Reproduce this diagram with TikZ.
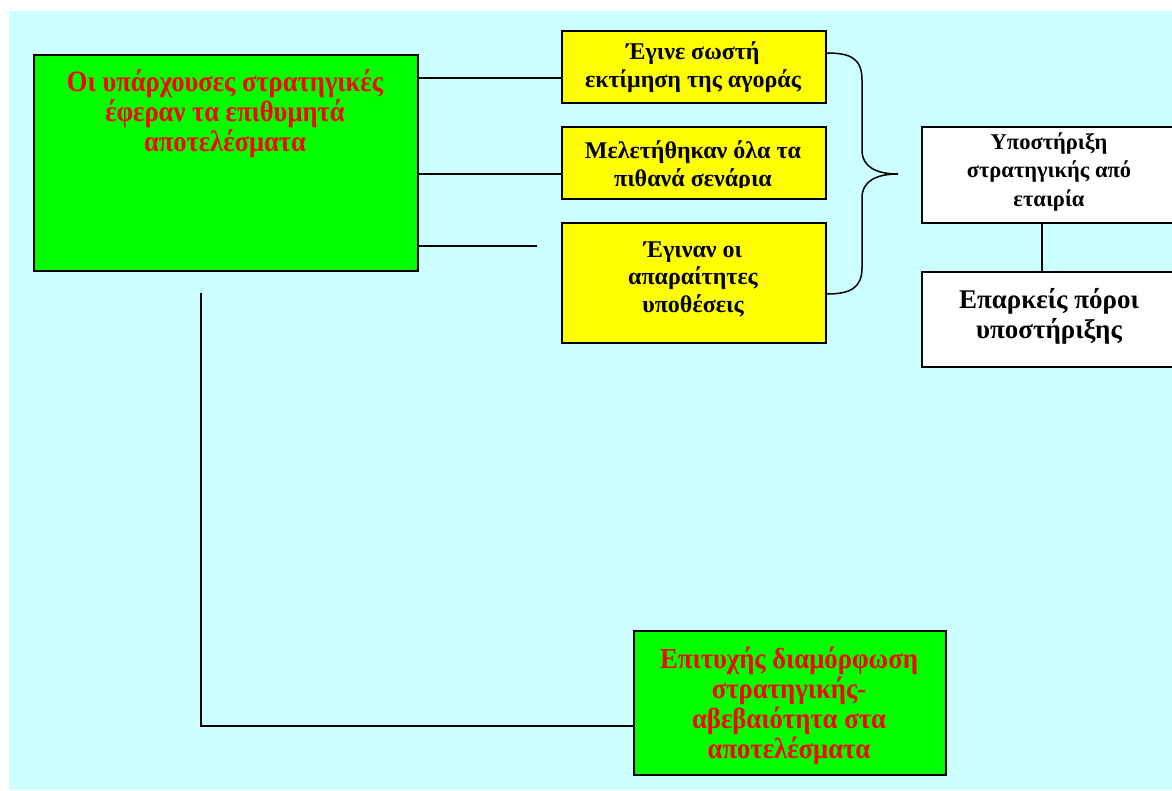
\documentclass[tikz,border=0pt]{standalone}
\usepackage{fontspec}
\setmainfont{Liberation Serif}
\newfontfamily\greenfonta[FakeStretch=0.9]{Liberation Serif}
\newfontfamily\greenfontb[FakeStretch=0.92]{Liberation Serif}
\definecolor{bgcyan}{HTML}{CCFFFF}
\definecolor{boxgreen}{HTML}{00FF00}
\definecolor{boxyellow}{HTML}{FFFF00}
\definecolor{textred}{HTML}{FF0000}
\tikzset{
  box/.style={draw=black, line width=1.6pt, rectangle, inner sep=0pt, anchor=north west},
  conn/.style={draw=black, line width=1.3pt},
  greentext/.style={text=textred, align=center, inner sep=0pt, font=\greenfonta\bfseries\fontsize{29.5}{30}\selectfont},
  yellowtext/.style={text=black, align=center, inner sep=0pt, font=\bfseries\fontsize{24}{27.5}\selectfont},
  whitetext/.style={text=black, align=center, inner sep=0pt, font=\bfseries\fontsize{22.5}{28.5}\selectfont},
  bigwhitetext/.style={text=black, align=center, inner sep=0pt, font=\bfseries\fontsize{27}{30}\selectfont},
}
\begin{document}
\begin{tikzpicture}[x=1pt,y=-1pt]
\useasboundingbox (0,0) rectangle (1172,790);
\fill[white] (0,0) rectangle (1172,790);
\fill[bgcyan] (9,11) rectangle (1172,790);

% boxes
\node[box, fill=boxgreen, minimum width=384pt, minimum height=216pt] (g1) at (33,54) {};
\node[greentext] (g1t) at (225,114) {Οι υπάρχουσες στρατηγικές\\έφεραν τα επιθυμητά\\αποτελέσματα};

\node[box, fill=boxyellow, minimum width=264pt, minimum height=72pt] (y1) at (561,30) {};
\node[box, fill=boxyellow, minimum width=264pt, minimum height=72pt] (y2) at (561,126) {};
\node[box, fill=boxyellow, minimum width=264pt, minimum height=120pt] (y3) at (561,222) {};
\begin{scope}
  \clip (561,30) rectangle (825,93);
  \node[yellowtext] (y1t) at (693,67) {Έγινε σωστή\\εκτίμηση της αγοράς};
\end{scope}
\begin{scope}
  \clip (561,126) rectangle (825,187);
  \node[yellowtext] (y2t) at (693,166) {Μελετήθηκαν όλα τα\\πιθανά σενάρια};
\end{scope}
\node[yellowtext] (y3t) at (693,279) {Έγιναν οι\\απαραίτητες\\υποθέσεις};

\node[box, fill=white, minimum width=256pt, minimum height=96pt] (w1) at (921,126) {};
\node[whitetext] (w1t) at (1049,172) {Υποστήριξη\\στρατηγικής από\\εταιρία};
\node[box, fill=white, minimum width=256pt, minimum height=95pt] (w2) at (921,271) {};
\node[bigwhitetext] (w2t) at (1049,316) {Επαρκείς πόροι\\υποστήριξης};

\node[box, fill=boxgreen, minimum width=312pt, minimum height=144pt] (g2) at (633,630) {};
\node[greentext, font=\greenfontb\bfseries\fontsize{29}{30}\selectfont] (g2t) at (789,706) {Επιτυχής διαμόρφωση\\στρατηγικής-\\αβεβαιότητα στα\\αποτελέσματα};

% connectors
\draw[conn] (g1.east |- 0,78) -- (y1.west |- 0,78);
\draw[conn] (g1.east |- 0,174) -- (y2.west |- 0,174);
\coordinate (l3end) at (537,246);
\draw[conn] (g1.east |- l3end) -- (l3end);
\coordinate (vstart) at (201,293);
\draw[conn] (vstart) |- (g2.west |- 0,726);
\draw[conn] (w1.south -| 1042,0) -- (w2.north -| 1042,0);

% brace
\coordinate (btop) at (y1.east |- 0,53);
\coordinate (bbot) at (y3.east |- 0,294);
\coordinate (btip) at (898,174);
\draw[conn, line width=1.5pt] (btop) .. controls (850,53) and (862,58) .. (862,80)
  -- (862,150) .. controls (862,168) and (878,174) .. (btip)
  .. controls (878,174) and (862,180) .. (862,198)
  -- (862,268) .. controls (862,288) and (850,294) .. (bbot);
\end{tikzpicture}
\end{document}
